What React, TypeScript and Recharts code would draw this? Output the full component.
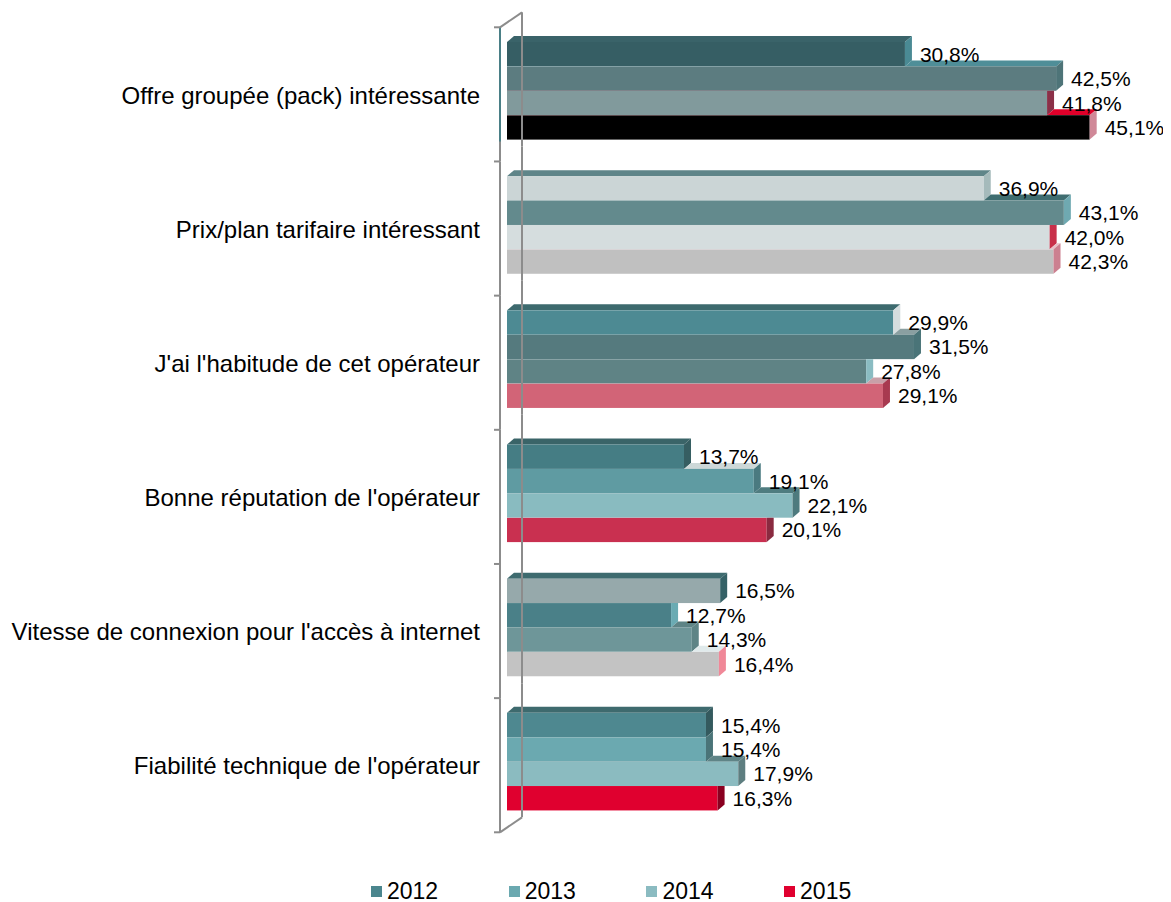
import React from 'react';
import { BarChart, Bar, XAxis, YAxis, LabelList } from 'recharts';

const categories = [
  'Offre groupée (pack) intéressante',
  'Prix/plan tarifaire intéressant',
  "J'ai l'habitude de cet opérateur",
  "Bonne réputation de l'opérateur",
  "Vitesse de connexion pour l'accès à internet",
  "Fiabilité technique de l'opérateur",
];
const years = ['2012', '2013', '2014', '2015'];
const values2012 = [30.8, 36.9, 29.9, 13.7, 16.5, 15.4];
const values2013 = [42.5, 43.1, 31.5, 19.1, 12.7, 15.4];
const values2014 = [41.8, 42.0, 27.8, 22.1, 14.3, 17.9];
const values2015 = [45.1, 42.3, 29.1, 20.1, 16.4, 16.3];

const legendColors = ['#4B868E', '#6BA9B0', '#8BBBC1', '#E0002F'];

// front / top / side colour of every bar, [year][category]
const faces: string[][][] = [
  [
    ['#365E64', '#3A6369', '#4A8A94'],
    ['#CBD5D6', '#5F8589', '#A5BABB'],
    ['#4D8A93', '#3D6A6E', '#D5DDDE'],
    ['#457D84', '#3A6468', '#365E62'],
    ['#96A9AB', '#3E6B6F', '#356166'],
    ['#4E8890', '#3E6A6E', '#345A5E'],
  ],
  [
    ['#5C7C80', '#4F8E98', '#4E7478'],
    ['#638A8D', '#3F6D70', '#6FA9B1'],
    ['#557A7E', '#8A9FA1', '#4A7478'],
    ['#5F9BA2', '#CDD8D8', '#4A7A80'],
    ['#4A8088', '#6AABB3', '#6AABB3'],
    ['#6BA9B0', '#4A7478', '#4A7478'],
  ],
  [
    ['#819A9C', '#8B3048', '#8B3048'],
    ['#D5DDDE', '#C8304A', '#C8304A'],
    ['#5F8385', '#8ABCC2', '#8ABCC2'],
    ['#89BBC0', '#4F7C80', '#4E7A7E'],
    ['#6E9699', '#5E8486', '#5E8486'],
    ['#8BBBC0', '#5F8487', '#5E7E80'],
  ],
  [
    ['#000000', '#E0002A', '#D08898'],
    ['#C0C0C0', '#E8C0C8', '#CC8090'],
    ['#D26477', '#C8A0A8', '#A83A50'],
    ['#C93050', '#E090A0', '#8A2A40'],
    ['#C3C3C3', '#E0EAEB', '#F08898'],
    ['#E0002F', '#F0A0B0', '#8A0020'],
  ],
];

const seriesValues = [values2012, values2013, values2014, values2015];

const rows = categories.map((name, i) => {
  const row: Record<string, string | number> = { name };
  years.forEach((y, s) => {
    row[y] = seriesValues[s][i];
  });
  return row;
});

const FONT = '"Liberation Sans", Arial, sans-serif';
const CHART_W = 1155;
const CHART_H = 886;
const MARGIN = { top: 16, right: 10, bottom: 65, left: 0 };
const PLOT_H = CHART_H - MARGIN.top - MARGIN.bottom;
const BAND = PLOT_H / categories.length;
const DX = 7;
const DY = 6;
const WALL = '#8C8C8C';

const fmt = (v: number) => v.toFixed(1).replace('.', ',') + '%';

function makeShape(s: number) {
  // eslint-disable-next-line @typescript-eslint/no-explicit-any
  return (props: any) => {
    const { x, y, width, height, payload } = props;
    const ci = categories.indexOf(payload.name);
    const value = payload[years[s]];
    const [front, topCol, sideCol] = faces[s][ci];
    const end = x + width;
    const top = y;
    const bottom = y + height;
    const topFace = `M${x},${top} L${end},${top} L${end + DX},${top - DY} L${x + DX},${top - DY} Z`;
    const sideFace = `M${end},${top} L${end + DX},${top - DY} L${end + DX},${bottom - DY} L${end},${bottom} Z`;
    let clipId: string | undefined;
    let clipPoly = '';
    if (s > 0 && value > 0) {
      // hide the parts that sit behind the bar above
      const pe = x + (payload[years[s - 1]] * width) / value;
      clipId = `bar-clip-${s}-${ci}`;
      clipPoly = [
        [pe, top],
        [pe + DX, top - DY],
        [pe + DX, top - 60],
        [x + 2000, top - 60],
        [x + 2000, bottom + 60],
        [x - 60, bottom + 60],
        [x - 60, top],
      ]
        .map((p) => p.join(','))
        .join(' ');
    }
    return (
      <g>
        {clipId && (
          <defs>
            <clipPath id={clipId}>
              <polygon points={clipPoly} />
            </clipPath>
          </defs>
        )}
        <g clipPath={clipId ? `url(#${clipId})` : undefined}>
          <path d={topFace} fill={topCol} />
          <rect x={x} y={top} width={width} height={height} fill={front} />
          <path d={sideFace} fill={sideCol} />
        </g>
      </g>
    );
  };
}

// eslint-disable-next-line @typescript-eslint/no-explicit-any
function CategoryTick(props: any) {
  const { x, y, payload, index } = props;
  const last = categories.length - 1;
  const fx = x - 7;
  const bx = x + 15;
  const y0 = y - BAND / 2 + 3.3;
  const y1 = y + BAND / 2 + 3.3;
  return (
    <g>
      <line x1={fx} y1={y0} x2={fx} y2={y1} stroke={WALL} strokeWidth={2} />
      {index === 0 && (
        <line x1={fx} y1={y0} x2={fx} y2={y1 - 20} stroke="#4A7F86" strokeWidth={2} />
      )}
      <line x1={bx} y1={y0 - 15} x2={bx} y2={y1 - 15} stroke={WALL} strokeWidth={2} />
      <line x1={fx - 6} y1={y0} x2={fx} y2={y0} stroke={WALL} strokeWidth={2} />
      {index === 0 && <line x1={fx} y1={y0} x2={bx} y2={y0 - 15} stroke={WALL} strokeWidth={2} />}
      {index === last && (
        <>
          <line x1={fx - 6} y1={y1} x2={fx} y2={y1} stroke={WALL} strokeWidth={2} />
          <line x1={fx} y1={y1} x2={bx} y2={y1 - 15} stroke={WALL} strokeWidth={2} />
        </>
      )}
      <text x={x - 27} y={y + 12.5} textAnchor="end" fontSize={24} fontFamily={FONT} fill="#000">
        {payload.value}
      </text>
    </g>
  );
}

// eslint-disable-next-line @typescript-eslint/no-explicit-any
function ValueLabel(props: any) {
  const { x, y, width, height, value } = props;
  return (
    <text
      x={x + width + 15}
      y={y + height / 2 + 7.5}
      fontSize={21}
      fontFamily={FONT}
      fill="#000"
    >
      {fmt(value)}
    </text>
  );
}

export default function App() {
  return (
    <div
      style={{
        position: 'relative',
        width: CHART_W,
        height: CHART_H + 14,
        fontFamily: FONT,
      }}
    >
      <BarChart
        layout="vertical"
        width={CHART_W}
        height={CHART_H}
        data={rows}
        margin={MARGIN}
        barGap={0}
        barSize={24.4}
      >
        <XAxis type="number" domain={[0, 50]} hide />
        <YAxis
          type="category"
          dataKey="name"
          width={499}
          axisLine={false}
          tickLine={false}
          tickSize={0}
          tickMargin={0}
          interval={0}
          tick={(p) => <CategoryTick {...p} />}
        />
        {years.map((yr, s) => (
          <Bar key={yr} dataKey={yr} isAnimationActive={false} shape={makeShape(s)}>
            <LabelList dataKey={yr} content={(p) => <ValueLabel {...p} />} />
          </Bar>
        ))}
      </BarChart>
      <div style={{ position: 'absolute', top: 869, left: 363, display: 'flex' }}>
        {years.map((yr, i) => (
          <div key={yr} style={{ width: 137.7, display: 'flex', alignItems: 'center', height: 28 }}>
            <span style={{ width: 11, height: 11, background: legendColors[i], display: 'inline-block' }} />
            <span style={{ marginLeft: 5, fontSize: 23, color: '#000', lineHeight: '28px' }}>{yr}</span>
          </div>
        ))}
      </div>
    </div>
  );
}
